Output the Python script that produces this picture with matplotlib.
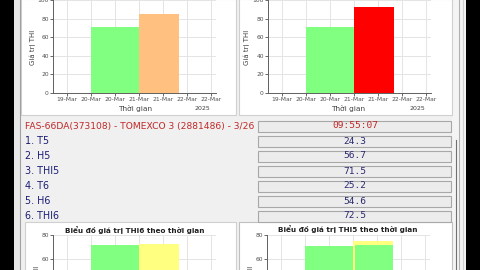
import matplotlib
matplotlib.use('Agg')
import matplotlib.pyplot as plt
import matplotlib.dates as mdates
from matplotlib.patches import Rectangle
import pandas as pd

# Du lieu cac bieu do (gia tri THI theo thoi gian)
top1_start = ['2025-03-20 00:00', '2025-03-21 00:00']
top1_end = ['2025-03-21 00:00', '2025-03-21 20:00']
top1_vals = [71, 85]
top1_colors = ['#80ff80', '#ffc080']

top2_start = ['2025-03-20 00:00', '2025-03-21 00:00']
top2_end = ['2025-03-21 00:00', '2025-03-21 20:00']
top2_vals = [71, 92]
top2_colors = ['#80ff80', '#ff0000']

bot1_start = ['2025-03-20 00:00', '2025-03-21 00:00']
bot1_end = ['2025-03-21 00:00', '2025-03-21 20:00']
bot1_vals = [71.5, 72.5]
bot1_colors = ['#80ff80', '#ffff80']

bot2_start = ['2025-03-20 00:00', '2025-03-21 00:00', '2025-03-21 01:00']
bot2_end = ['2025-03-21 00:00', '2025-03-21 20:00', '2025-03-21 20:00']
bot2_vals = [71, 75, 71.5]
bot2_colors = ['#80ff80', '#ffff80', '#80ff80']

# Bang thong so
header = 'FAS-66DA(373108) - TOMEXCO 3 (2881486) - 3/26'
clock = '09:55:07'
row_labels = ['1. T5', '2. H5', '3. THI5', '4. T6', '5. H6', '6. THI6']
row_values = ['24.3', '56.7', '71.5', '25.2', '54.6', '72.5']

x_min, x_max = '2025-03-19 05:00', '2025-03-22 14:30'

W, H = 480, 270
fig = plt.figure(figsize=(4.8, 2.7), dpi=100, facecolor='#f0f0f0')

# Nen giao dien (toa do pixel)
bg = fig.add_axes([0, 0, 1, 1], zorder=0)
bg.set_xlim(0, W)
bg.set_ylim(H, 0)
bg.axis('off')


def rect(x0, y0, x1, y1, fc, ec='none', lw=0.8):
    bg.add_patch(Rectangle((x0, y0), x1 - x0, y1 - y0, fc=fc, ec=ec, lw=lw))


rect(0, 0, 14, H, 'black')
rect(466, 0, W, H, 'black')
rect(14, 0, 20, H, '#e8e8e8')
rect(452, 0, 466, H, '#f4f4f4')
bg.plot([20, 20], [0, H], color='#a0a0a0', lw=0.8)
bg.plot([459, 459], [0, H], color='#b0b0b0', lw=0.8)
bg.plot([463, 463], [0, H], color='#d0d0d0', lw=0.8)
bg.plot([456, 456], [140, H], color='#707070', lw=0.8)
rect(21, -1, 236, 115, 'white', '#d0d0d0')
rect(239, -1, 452, 115, 'white', '#d0d0d0')
rect(25, 222, 236, 272, 'white', '#d0d0d0')
rect(239, 222, 452, 272, 'white', '#c0c0c0')

bg.text(25, 126, header, color='#c02828', fontsize=6.6, va='center', ha='left')
row_y = [141, 156, 171, 186, 201, 216]
rect(258, 120.5, 451, 131.5, '#ececec', '#a8a8a8')
bg.text(355, 126, clock, color='#c02828', fontsize=6.8, va='center', ha='center',
        family='DejaVu Sans Mono')
for y, lab, val in zip(row_y, row_labels, row_values):
    bg.text(25, y, lab, color='#1c1c78', fontsize=6.9, va='center', ha='left')
    rect(258, y - 5.5, 451, y + 5.5, '#ececec', '#a8a8a8')
    bg.text(355, y, val, color='#2a2a70', fontsize=6.8, va='center', ha='center',
            family='DejaVu Sans Mono')


def pix(x0, y0, x1, y1):
    return [x0 / W, 1 - y1 / H, (x1 - x0) / W, (y1 - y0) / H]


def chart(box, starts, ends, vals, colors, ymax):
    ax = fig.add_axes(pix(*box), zorder=1)
    ax.set_facecolor('white')
    s = mdates.date2num(pd.to_datetime(starts))
    e = mdates.date2num(pd.to_datetime(ends))
    ax.bar(s, vals, width=e - s, align='edge', color=colors, zorder=2)
    ax.set_xlim(mdates.date2num(pd.Timestamp(x_min)), mdates.date2num(pd.Timestamp(x_max)))
    ax.set_ylim(0, ymax)
    ax.set_yticks(range(0, ymax + 1, 20))
    ax.xaxis.set_major_locator(mdates.HourLocator(byhour=[0, 12]))
    ax.xaxis.set_major_formatter(mdates.DateFormatter('%d-%b'))
    ax.grid(True, color='#e4e4e4', lw=0.7, zorder=0)
    for sp in ['top', 'right']:
        ax.spines[sp].set_visible(False)
    for sp in ['left', 'bottom']:
        ax.spines[sp].set_color('#606060')
        ax.spines[sp].set_linewidth(0.7)
    ax.tick_params(labelsize=4.3, colors='#505050', length=2, width=0.6, pad=1)
    return ax


chart((53, 0, 216, 93), top1_start, top1_end, top1_vals, top1_colors, 100)
chart((268, 0, 431, 93), top2_start, top2_end, top2_vals, top2_colors, 100)
chart((53, 235, 216, 331), bot1_start, bot1_end, bot1_vals, bot1_colors, 80)
chart((267, 235, 430, 331), bot2_start, bot2_end, bot2_vals, bot2_colors, 80)

# Nhan truc va tieu de
for x in (33, 247):
    bg.text(x, 47, 'Giá trị THI', rotation=90, fontsize=5, color='#404040',
            ha='center', va='center')
for x in (37, 251):
    bg.text(x, 283, 'Giá trị THI', rotation=90, fontsize=5, color='#404040',
            ha='center', va='center')
for xc, xy in ((135, 202), (348, 417)):
    bg.text(xc, 108, 'Thời gian', fontsize=5.3, color='#404040', ha='center', va='center')
    bg.text(xy, 108, '2025', fontsize=4.5, color='#404040', ha='center', va='center')
bg.text(135, 230, 'Biểu đồ giá trị THI6 theo thời gian', fontsize=5.2,
        fontweight='semibold', color='#202020', ha='center', va='center')
bg.text(348, 229, 'Biểu đồ giá trị THI5 theo thời gian', fontsize=5.2,
        fontweight='semibold', color='#202020', ha='center', va='center')

fig.savefig('out.png', dpi=100, facecolor=fig.get_facecolor())
